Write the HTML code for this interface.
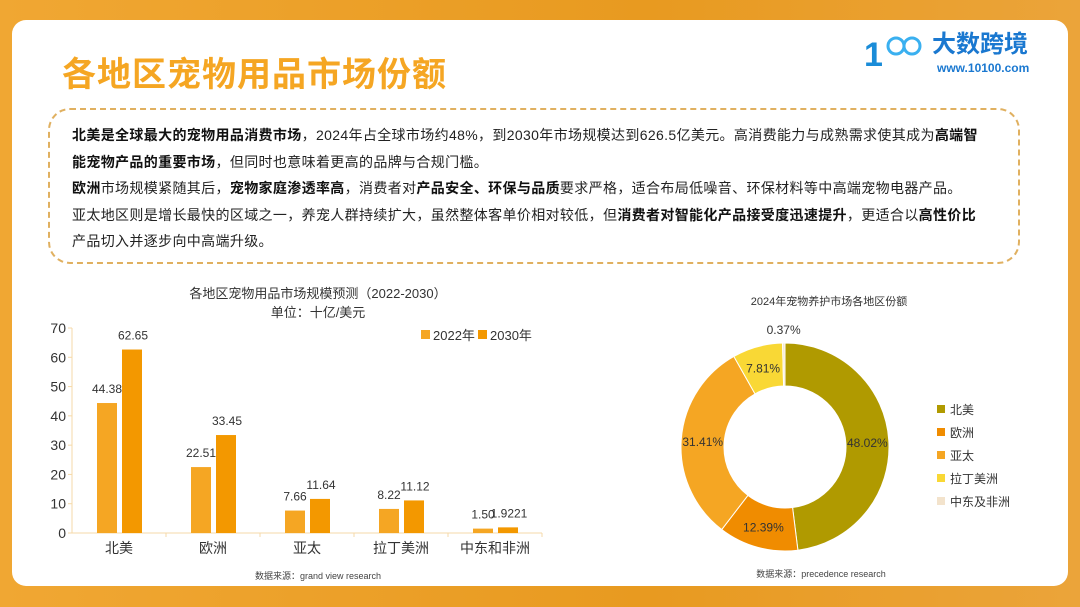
<!DOCTYPE html>
<html><head><meta charset="utf-8"><style>
body{margin:0;width:1080px;height:607px;overflow:hidden;background:linear-gradient(90deg,#f0a733,#e89a20 60%,#eba43a);font-family:"Liberation Sans","Noto Sans CJK SC",sans-serif;position:relative}
.card{position:absolute;left:12px;top:20px;width:1056px;height:566px;background:#fff;border-radius:14px}
.title{position:absolute;left:62px;top:47px;font-size:34px;font-weight:bold;color:#f5a623;letter-spacing:1px}
.logo{position:absolute;left:862px;top:28px}
.box{position:absolute;left:48px;top:108px;width:972px;height:156px;border:2px dashed #e0b060;border-radius:22px;box-sizing:border-box;padding:12px 38px 0 22px;font-size:14px;line-height:26.5px;color:#222;letter-spacing:0.35px}
b{font-weight:bold;color:#111}
</style></head><body>
<div class="card"></div>
<div class="title">各地区宠物用品市场份额</div>
<svg class="logo" width="200" height="50">
<text x="2" y="38" font-size="34" font-weight="bold" fill="#1a8cd8" font-family="Liberation Sans">1</text>
<circle cx="34" cy="18" r="8" fill="none" stroke="#3ab0f0" stroke-width="3"/><circle cx="50" cy="18" r="8" fill="none" stroke="#3ab0f0" stroke-width="3"/>
<text x="70" y="24" font-size="24" font-weight="bold" fill="#1a78d0">大数跨境</text>
<text x="75" y="44" font-size="12" font-weight="bold" fill="#1a78d0">www.10100.com</text>
</svg>
<div class="box">
<b>北美是全球最大的宠物用品消费市场</b>，2024年占全球市场约48%，到2030年市场规模达到626.5亿美元。高消费能力与成熟需求使其成为<b>高端智能宠物产品的重要市场</b>，但同时也意味着更高的品牌与合规门槛。<br>
<b>欧洲</b>市场规模紧随其后，<b>宠物家庭渗透率高</b>，消费者对<b>产品安全、环保与品质</b>要求严格，适合布局低噪音、环保材料等中高端宠物电器产品。<br>
亚太地区则是增长最快的区域之一，养宠人群持续扩大，虽然整体客单价相对较低，但<b>消费者对智能化产品接受度迅速提升</b>，更适合以<b>高性价比</b>产品切入并逐步向中高端升级。
</div>
<svg id="bar" width="1080" height="607" style="position:absolute;left:0;top:0"></svg>
<script>
const categories=["北美","欧洲","亚太","拉丁美洲","中东和非洲"];
const v2022=[44.38,22.51,7.66,8.22,1.50];
const v2030=[62.65,33.45,11.64,11.12,1.9221];
const lab2022=["44.38","22.51","7.66","8.22","1.50"];
const lab2030=["62.65","33.45","11.64","11.12","1.9221"];
const yTicks=[0,10,20,30,40,50,60,70];
const shareLabels=["北美","欧洲","亚太","拉丁美洲","中东及非洲"];
const shares=[48.02,12.39,31.41,7.81,0.37];
const shareColors=["#b09a00","#f08c00","#f5a623","#f9d835","#f3e3cc"];
const NS="http://www.w3.org/2000/svg";
const svg=document.getElementById('bar');
function el(t,a,txt){const e=document.createElementNS(NS,t);for(const k in a)e.setAttribute(k,a[k]);if(txt!=null)e.textContent=txt;svg.appendChild(e);return e;}
const x0=72,x1=542,yb=533,yt=328;
const y=v=>yb-(v/70)*(yb-yt);
const bw=(x1-x0)/categories.length;
let e;
e=el('text',{x:318,y:298,'font-size':13,'text-anchor':'middle',fill:'#333'},'各地区宠物用品市场规模预测（2022-2030）');


e=el('text',{x:318,y:317,'font-size':13,'text-anchor':'middle',fill:'#333'},'单位：十亿/美元');


el('line',{x1:x0,y1:yt,x2:x0,y2:yb,stroke:'#f5d9a8'});
el('line',{x1:x0,y1:yb,x2:x1,y2:yb,stroke:'#f5d9a8'});
yTicks.forEach(t=>{
 el('line',{x1:x0-4,y1:y(t),x2:x0,y2:y(t),stroke:'#f5d9a8'});
 e=el('text',{x:x0-6,y:y(t)+5,'font-size':14,'text-anchor':'end',fill:'#333'},t);
 
 
});
categories.forEach((c,i)=>{
 const cx=x0+bw*i+bw/2;
 el('line',{x1:x0+bw*(i+1),y1:yb,x2:x0+bw*(i+1),y2:yb+4,stroke:'#f5d9a8'});
 e=el('rect',{x:cx-22,y:y(v2022[i]),width:20,height:yb-y(v2022[i]),fill:'#f5a623'});
 
 
 e=el('rect',{x:cx+3,y:y(v2030[i]),width:20,height:yb-y(v2030[i]),fill:'#f39800'});
 
 
 e=el('text',{x:cx-12,y:y(v2022[i])-10,'font-size':12,'text-anchor':'middle',fill:'#333'},lab2022[i]);
 
 
 e=el('text',{x:cx+14,y:y(v2030[i])-10,'font-size':12,'text-anchor':'middle',fill:'#333'},lab2030[i]);
 
 
 e=el('text',{x:cx,y:yb+20,'font-size':14,'text-anchor':'middle',fill:'#333'},c);
 
 
});
el('rect',{x:421,y:330,width:9,height:9,fill:'#f5a623'});
e=el('text',{x:433,y:340,'font-size':13,fill:'#333'},'2022年');


el('rect',{x:478,y:330,width:9,height:9,fill:'#f39800'});
e=el('text',{x:490,y:340,'font-size':13,fill:'#333'},'2030年');


e=el('text',{x:318,y:579,'font-size':9,'text-anchor':'middle',fill:'#444'},'数据来源：grand view research');


const cx=785,cy=447,R=104,r=61;
e=el('text',{x:829,y:305,'font-size':11,'text-anchor':'middle',fill:'#333'},'2024年宠物养护市场各地区份额');


const tot=shares.reduce((a,b)=>a+b,0);
let a0=-Math.PI/2;
const P=(rad,a)=>[cx+rad*Math.cos(a),cy+rad*Math.sin(a)];
shares.forEach((s,i)=>{
 const a1=a0+s/tot*2*Math.PI;const lg=(a1-a0)>Math.PI?1:0;
 const [p1x,p1y]=P(R,a0),[p2x,p2y]=P(R,a1),[p3x,p3y]=P(r,a1),[p4x,p4y]=P(r,a0);
 e=el('path',{d:`M${p1x},${p1y}A${R},${R} 0 ${lg} 1 ${p2x},${p2y}L${p3x},${p3y}A${r},${r} 0 ${lg} 0 ${p4x},${p4y}Z`,fill:shareColors[i],stroke:'#fff','stroke-width':1});
 
 
 const am=(a0+a1)/2;let [lx,ly]=P((R+r)/2,am);
 if(s<2){[lx,ly]=P(R+14,am);}
 e=el('text',{x:lx,y:ly+5,'font-size':12,'text-anchor':'middle',fill:'#333'},s.toFixed(2)+'%');
 
 
 a0=a1;
 el('rect',{x:937,y:405+i*23,width:8,height:8,fill:shareColors[i]});
 e=el('text',{x:950,y:414+i*23,'font-size':12,fill:'#333'},shareLabels[i]);
 
 
});
e=el('text',{x:821,y:577,'font-size':9,'text-anchor':'middle',fill:'#444'},'数据来源：precedence research');


</script>
</body></html>
